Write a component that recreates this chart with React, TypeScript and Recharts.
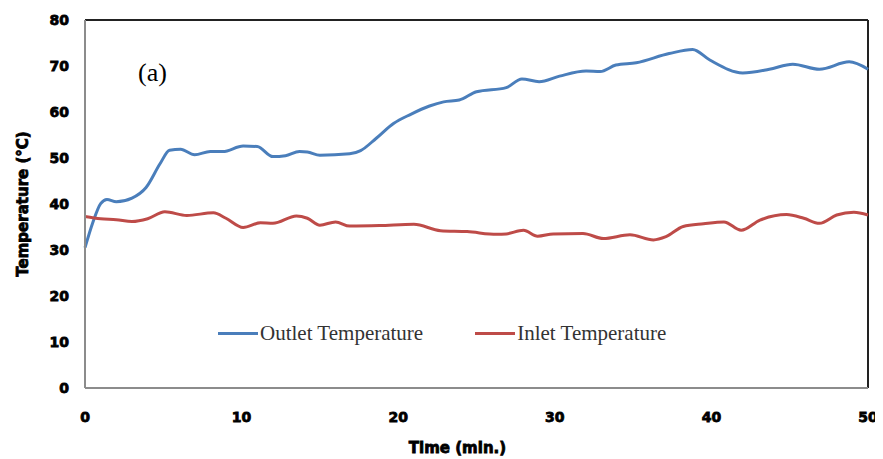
import { LineChart, Line, XAxis, YAxis, ReferenceLine, Label } from "recharts";

const outletTime = [0, 0.5, 1, 1.4, 2, 3, 3.9, 4.8, 5.4, 6.1, 7, 8, 8.8, 10.1, 11, 12, 12.8, 13.7, 14.2, 15, 16.9, 17.6, 18.6, 19.7, 20.8, 22, 22.9, 23.9, 25, 26.9, 27.9, 29, 30.3, 32, 32.9, 33.9, 35.2, 37.3, 38.8, 39.9, 42, 43.7, 45.2, 46.9, 48.8, 50];
const outletTemp = [30.5, 36, 40.1, 41, 40.5, 41.3, 43.6, 48.8, 51.7, 51.9, 50.7, 51.4, 51.4, 52.6, 52.5, 50.3, 50.5, 51.4, 51.3, 50.6, 50.9, 51.6, 54.3, 57.5, 59.5, 61.3, 62.2, 62.6, 64.4, 65.3, 67.2, 66.6, 67.8, 68.9, 68.8, 70.2, 70.7, 72.7, 73.6, 71.3, 68.5, 69.3, 70.4, 69.3, 70.9, 69.3];

const inletTime = [0, 1, 2, 3, 4, 5.1, 6.5, 8.2, 9, 10.1, 11.2, 12, 13.5, 14.2, 15, 16, 16.9, 18.8, 21, 22.7, 24.4, 26.3, 26.9, 28, 28.9, 29.9, 31.8, 33.1, 34.8, 36.3, 37.1, 38.2, 39.5, 40.8, 41.9, 43.1, 44.8, 45.9, 46.9, 48, 49.1, 50];
const inletTemp = [37.3, 36.8, 36.6, 36.2, 36.8, 38.3, 37.5, 38.1, 36.9, 34.9, 35.9, 35.8, 37.4, 36.9, 35.4, 36.1, 35.2, 35.3, 35.6, 34.2, 34, 33.4, 33.5, 34.3, 33, 33.5, 33.6, 32.5, 33.3, 32.2, 32.9, 35.1, 35.7, 36.1, 34.3, 36.5, 37.7, 36.9, 35.8, 37.6, 38.2, 37.6];

const xTicks = [0, 10, 20, 30, 40, 50];
const yTicks = [0, 10, 20, 30, 40, 50, 60, 70, 80];

const series = [
  { name: "Outlet Temperature", color: "#4a7ebb" },
  { name: "Inlet Temperature", color: "#be4b48" },
];

const outletData = outletTime.map((t, i) => ({ t, v: outletTemp[i] }));
const inletData = inletTime.map((t, i) => ({ t, v: inletTemp[i] }));

const boldText = {
  fontFamily: "DejaVu Sans",
  fontSize: 14,
  fontWeight: 900,
  fill: "#000",
  stroke: "#000",
  strokeWidth: 0.8,
};

export default function App() {
  return (
    <div style={{ position: "relative", width: 875, height: 451 }}>
      <LineChart width={875} height={451} margin={{ top: 12, right: 15, bottom: 0, left: 0 }}>
        <XAxis
          dataKey="t"
          type="number"
          domain={[0, 50]}
          ticks={xTicks}
          allowDuplicatedCategory={false}
          axisLine={{ stroke: "#8c8c8c", strokeWidth: 2 }}
          tickLine={false}
          tick={boldText}
          tickMargin={18}
          height={71}
        >
          <Label value="Time (min.)" position="insideBottom" offset={6} dx={-19} style={{ ...boldText, fontSize: 15 }} />
        </XAxis>
        <YAxis
          type="number"
          domain={[0, 80]}
          ticks={yTicks}
          axisLine={{ stroke: "#8c8c8c", strokeWidth: 2 }}
          tickLine={false}
          tick={boldText}
          tickMargin={10}
          width={77}
        >
          <Label
            value="Temperature (°C)"
            angle={-90}
            position="insideLeft"
            offset={15}
            style={{ ...boldText, fontSize: 15, textAnchor: "middle" }}
          />
        </YAxis>
        <ReferenceLine y={80} stroke="#222" strokeWidth={2} />
        <ReferenceLine x={50} stroke="#222" strokeWidth={2} />
        <Line
          data={outletData}
          dataKey="v"
          name="Outlet Temperature"
          type="monotone"
          stroke="#4a7ebb"
          strokeWidth={3}
          dot={false}
          isAnimationActive={false}
        />
        <Line
          data={inletData}
          dataKey="v"
          name="Inlet Temperature"
          type="monotone"
          stroke="#be4b48"
          strokeWidth={3}
          dot={false}
          isAnimationActive={false}
        />
      </LineChart>
      <div
        style={{
          position: "absolute",
          left: 210,
          top: 313,
          display: "flex",
          fontFamily: "Liberation Serif",
          fontSize: 21,
          color: "#333",
        }}
      >
        {series.map((s, i) => (
          <div key={s.name} style={{ display: "flex", alignItems: "center", marginRight: i === 0 ? 52 : 0 }}>
            <div style={{ width: 40, height: 3, background: s.color, marginRight: 2 }} />
            <span>{s.name}</span>
          </div>
        ))}
      </div>
      <div style={{ position: "absolute", left: 130, top: 50, fontFamily: "Liberation Serif", fontSize: 26, color: "#000" }}>
        (a)
      </div>
    </div>
  );
}
